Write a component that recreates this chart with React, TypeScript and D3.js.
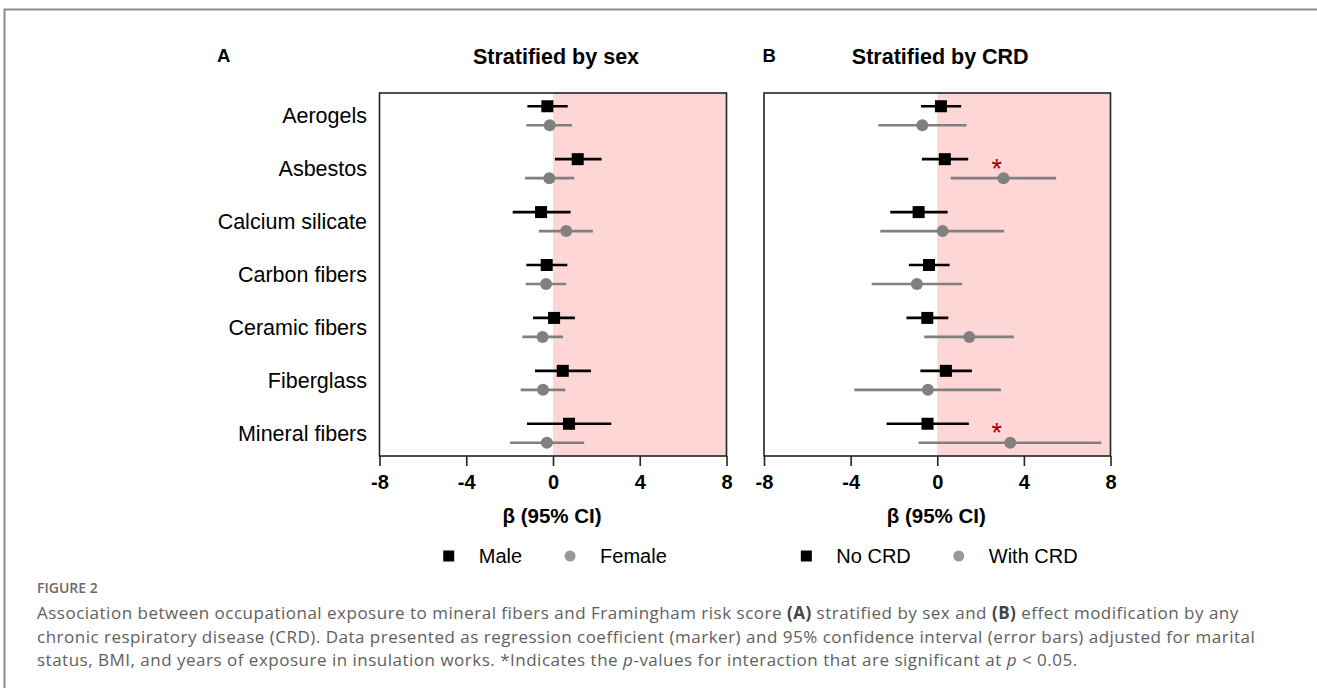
import React from 'react';
import * as d3 from 'd3';

// exposure categories, top to bottom
const categories = ['Aerogels', 'Asbestos', 'Calcium silicate', 'Carbon fibers', 'Ceramic fibers', 'Fiberglass', 'Mineral fibers'];
const xTicks = [-8, -4, 0, 4, 8];

// panel A - stratified by sex
const maleEst = [-0.26, 1.14, -0.55, -0.29, 0.05, 0.45, 0.74];
const maleLow = [-1.18, 0.09, -1.86, -1.23, -0.92, -0.83, -1.2];
const maleHigh = [0.68, 2.24, 0.81, 0.66, 1.01, 1.75, 2.69];
const femaleEst = [-0.15, -0.17, 0.61, -0.32, -0.48, -0.46, -0.28];
const femaleLow = [-1.23, -1.29, -0.65, -1.26, -1.41, -1.49, -1.98];
const femaleHigh = [0.88, 0.98, 1.84, 0.61, 0.46, 0.57, 1.44];

// panel B - stratified by chronic respiratory disease
const noCrdEst = [0.17, 0.35, -0.86, -0.38, -0.46, 0.4, -0.45];
const noCrdLow = [-0.75, -0.71, -2.17, -1.31, -1.42, -0.78, -2.34];
const noCrdHigh = [1.11, 1.43, 0.48, 0.57, 0.51, 1.6, 1.46];
const withCrdEst = [-0.69, 3.06, 0.25, -0.94, 1.48, -0.43, 3.37];
const withCrdLow = [-2.72, 0.62, -2.63, -3.03, -0.6, -3.83, -0.86];
const withCrdHigh = [1.35, 5.49, 3.09, 1.15, 3.54, 2.94, 7.58];

// significant interaction (p < 0.05) markers in panel B
const starCategories = ['Asbestos', 'Mineral fibers'];
const starX = [2.75, 2.75];

const FONT = "'Liberation Sans', Arial, Helvetica, sans-serif";
const CAPTION_FONT = "'Open Sans', 'Noto Sans', sans-serif";

const makeSeries = (name, est, low, high, shape, color, legendColor) => ({
  name, shape, color, legendColor,
  rows: categories.map((c, i) => ({ cat: c, est: est[i], low: low[i], high: high[i] })),
});

const panels = [
  {
    letter: 'A', title: 'Stratified by sex', left: 379.5, right: 726.5, labels: true,
    series: [
      makeSeries('Male', maleEst, maleLow, maleHigh, 'square', '#000', '#000'),
      makeSeries('Female', femaleEst, femaleLow, femaleHigh, 'circle', '#808080', '#999'),
    ],
    stars: [],
  },
  {
    letter: 'B', title: 'Stratified by CRD', left: 764, right: 1110.5, labels: false,
    series: [
      makeSeries('No CRD', noCrdEst, noCrdLow, noCrdHigh, 'square', '#000', '#000'),
      makeSeries('With CRD', withCrdEst, withCrdLow, withCrdHigh, 'circle', '#808080', '#999'),
    ],
    stars: starCategories.map((c, i) => ({ cat: c, x: starX[i] })),
  },
];

const App = () => {
  const ref = React.useRef(null);

  React.useEffect(() => {
    const svg = d3.select(ref.current);
    svg.selectAll('*').remove();

    const top = 93;
    const bottom = 456;
    const offset = 9.5;

    // outer figure frame (top and left edges)
    svg.append('path')
      .attr('d', 'M4.5,688 V9.5 H1317')
      .attr('fill', 'none')
      .attr('stroke', '#8c8c8c')
      .attr('stroke-width', 2);

    const y = d3.scalePoint().domain(categories).range([top, bottom]).padding(0.43);

    panels.forEach(p => {
      const x = d3.scaleLinear().domain([-8, 8]).range([p.left, p.right]);
      const mid = (p.left + p.right) / 2;
      const g = svg.append('g');

      g.append('text')
        .attr('x', p.left - (p.letter === 'A' ? 162.5 : 1.5))
        .attr('y', 61.5)
        .attr('font-family', FONT)
        .attr('font-weight', 'bold')
        .attr('font-size', 18.5)
        .text(p.letter);

      g.append('text')
        .attr('x', mid + 3)
        .attr('y', 63.5)
        .attr('text-anchor', 'middle')
        .attr('font-family', FONT)
        .attr('font-weight', 'bold')
        .attr('font-size', 21.5)
        .text(p.title);

      // positive side shading
      g.append('rect')
        .attr('x', x(0))
        .attr('y', top)
        .attr('width', x(8) - x(0))
        .attr('height', bottom - top)
        .attr('fill', '#ffd6d6');

      p.series.forEach((s, si) => {
        const dy = si === 0 ? -offset : offset;
        const sg = g.append('g');
        sg.selectAll('line')
          .data(s.rows)
          .enter().append('line')
          .attr('x1', d => x(d.low))
          .attr('x2', d => x(d.high))
          .attr('y1', d => y(d.cat) + dy)
          .attr('y2', d => y(d.cat) + dy)
          .attr('stroke', s.color)
          .attr('stroke-width', 2.6);
        if (s.shape === 'square') {
          sg.selectAll('rect')
            .data(s.rows)
            .enter().append('rect')
            .attr('x', d => x(d.est) - 6)
            .attr('y', d => y(d.cat) + dy - 6)
            .attr('width', 12)
            .attr('height', 12)
            .attr('fill', s.color);
        } else {
          sg.selectAll('circle')
            .data(s.rows)
            .enter().append('circle')
            .attr('cx', d => x(d.est))
            .attr('cy', d => y(d.cat) + dy)
            .attr('r', 6)
            .attr('fill', s.color);
        }
      });

      g.selectAll('.star')
        .data(p.stars)
        .enter().append('text')
        .attr('class', 'star')
        .attr('x', d => x(d.x))
        .attr('y', d => y(d.cat) + offset - 0.5)
        .attr('text-anchor', 'middle')
        .attr('font-family', FONT)
        .attr('font-size', 27)
        .attr('fill', '#a30000')
        .text('*');

      // plot frame
      g.append('rect')
        .attr('x', p.left)
        .attr('y', top)
        .attr('width', p.right - p.left)
        .attr('height', bottom - top)
        .attr('fill', 'none')
        .attr('stroke', '#222')
        .attr('stroke-width', 1.6);

      const axis = g.append('g')
        .attr('transform', `translate(0,${bottom})`)
        .call(d3.axisBottom(x).tickValues(xTicks).tickSize(10).tickPadding(9).tickFormat(d3.format('d')));
      axis.select('.domain').remove();
      axis.selectAll('line').attr('stroke', '#222').attr('stroke-width', 1.6);
      axis.selectAll('text')
        .attr('font-family', FONT)
        .attr('font-weight', 'bold')
        .attr('font-size', 20)
        .attr('fill', '#000')
        .text(d => String(d).replace('\u2212', '-'));

      g.append('text')
        .attr('x', mid - 1)
        .attr('y', 523)
        .attr('text-anchor', 'middle')
        .attr('font-family', FONT)
        .attr('font-weight', 'bold')
        .attr('font-size', 20.5)
        .text('\u03b2 (95% CI)');

      if (p.labels) {
        g.selectAll('.cat')
          .data(categories)
          .enter().append('text')
          .attr('class', 'cat')
          .attr('x', p.left - 12.5)
          .attr('y', d => y(d))
          .attr('dy', '0.35em')
          .attr('text-anchor', 'end')
          .attr('font-family', FONT)
          .attr('font-size', 21.5)
          .text(d => d);
      }

      // legend
      const lg = g.append('g');
      let cx = 0;
      p.series.forEach((s, si) => {
        if (si > 0) cx += 48;
        if (s.shape === 'square') {
          lg.append('rect').attr('x', cx - 5.5).attr('y', 556 - 5.5).attr('width', 11).attr('height', 11).attr('fill', s.legendColor);
        } else {
          lg.append('circle').attr('cx', cx).attr('cy', 556).attr('r', 5.5).attr('fill', s.legendColor);
        }
        const t = lg.append('text')
          .attr('x', cx + 30)
          .attr('y', 562.5)
          .attr('font-family', FONT)
          .attr('font-size', 20)
          .text(s.name);
        cx += 30 + t.node().getComputedTextLength();
      });
      const bb = lg.node().getBBox();
      lg.attr('transform', `translate(${mid + 2 - (bb.x + bb.width / 2)},0)`);
    });

    // caption
    const cap = svg.append('g').attr('font-family', CAPTION_FONT).attr('fill', '#606060');
    cap.append('text')
      .attr('x', 37)
      .attr('y', 593)
      .attr('font-size', 14)
      .attr('font-weight', 600)
      .attr('fill', '#6a6a6a')
      .text('FIGURE 2');

    const lines = [
      [['Association between occupational exposure to mineral fibers and Framingham risk score ', ''], ['(A)', 'b'], [' stratified by sex and ', ''], ['(B)', 'b'], [' effect modification by any', '']],
      [['chronic respiratory disease (CRD). Data presented as regression coefficient (marker) and 95% confidence interval (error bars) adjusted for marital', '']],
      [['status, BMI, and years of exposure in insulation works. *Indicates the ', ''], ['p', 'i'], ['-values for interaction that are significant at ', ''], ['p', 'i'], [' < 0.05.', '']],
    ];
    lines.forEach((parts, li) => {
      const t = cap.append('text')
        .attr('x', 37)
        .attr('y', 619 + li * 23.5)
        .attr('font-size', 17)
        .attr('letter-spacing', 0.5);
      parts.forEach(([str, st]) => {
        const ts = t.append('tspan').text(str);
        if (st === 'b') ts.attr('font-weight', 'bold').attr('fill', '#444');
        if (st === 'i') ts.attr('font-style', 'italic');
      });
    });
  }, []);

  return (
    <div style={{ position: 'absolute', left: 0, top: 0 }}>
      <svg ref={ref} width={1317} height={695} style={{ display: 'block', background: '#fff' }} />
    </div>
  );
};

export default App;
